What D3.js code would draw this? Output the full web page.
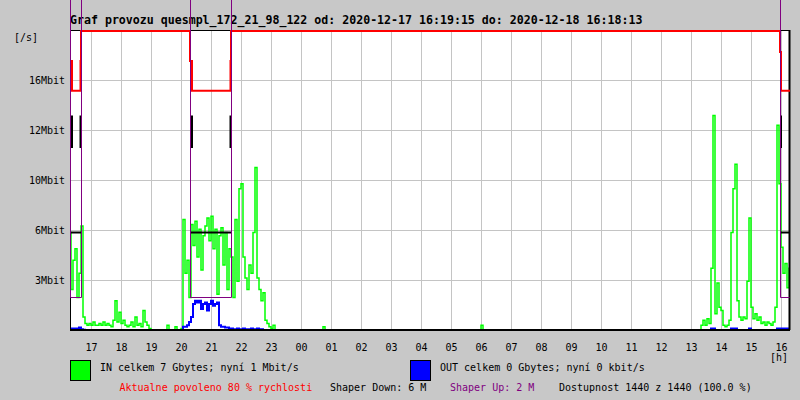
<!DOCTYPE html>
<html><head><meta charset="utf-8">
<script src="https://cdn.jsdelivr.net/npm/d3@7"></script>
<style>
html,body{margin:0;padding:0;background:#c8c8c8;}
svg{display:block;}
text{font-family:"DejaVu Sans Mono",monospace;font-size:10px;}
</style></head>
<body>
<svg id="c" width="800" height="400"></svg>
<script>
// ---------------- DATA ----------------
const titleText = "Graf provozu quesmpl_172_21_98_122 od: 2020-12-17 16:19:15 do: 2020-12-18 16:18:13";
const startTime = "2020-12-17 16:17";
const endTime = "2020-12-18 16:17";
const sampleMinutes = 4;               // one value per 4 minutes
const yMaxMbit = 18.4;                 // line speed (100 %)
const yTickLabels = ["3Mbit","6Mbit","10Mbit","12Mbit","16Mbit"];
const hourLabels = ["17","18","19","20","21","22","23","00","01","02","03","04","05","06","07","08","09","10","11","12","13","14","15","16"];
const firstHour = "2020-12-17 17:00";

// IN traffic [Mbit/s]
const inValues = [
 6.0,2.5,4.3,5.0,2.0,3.5,6.4,0.8,0.4,0.3,
 0.4,0.3,0.5,0.3,0.3,0.4,0.3,0.5,0.3,0.4,
 0.3,0.2,0.6,1.8,0.5,1.1,0.4,0.6,0.3,0.2,
 0.3,0.5,0.2,0.8,0.3,0.4,0.2,1.2,0.5,0.3,
 0.1,
 0,0,0,0,0,0,0,0,0.3,0,0,0,0.2,0,0,0.1,
 6.8,3.5,4.3,2.0,6.5,5.2,6.7,4.5,6.2,3.7,
 5.8,6.4,6.9,5.5,7.0,5.0,6.2,2.2,5.8,6.3,
 4.0,6.0,2.5,5.0,4.5,2.0,6.8,3.0,8.7,9.0,
 4.5,3.2,2.5,4.0,3.5,6.0,10.0,3.2,2.5,1.8,
 2.3,0.6,0.4,0.2,0.1,0.3,
 0,0,0,0,0,0,0,0,0,0,0,0,0,0,0,0,0,0,0,0,
 0,0,0,0,0.2,0,0,0,0,0,0,0,0,0,0,0,0,0,0,0,
 0,0,0,0,0,0,0,0,0,0,0,0,0,0,0,0,0,0,0,0,
 0,0,0,0,0,0,0,0,0,0,0,0,0,0,0,0,0,0,0,0,
 0,0,0,0,0,0,0,0,0,0,0,0,0,0,0,0,0,0,0,0,
 0,0,0,0.3,0,0,0,0,0,0,0,0,0,0,0,0,0,0,0,0,
 0,0,0,0,0,0,0,0,0,0,0,0,0,0,0,0,0,0,0,0,
 0,0,0,0,0,0,0,0,0,0,0,0,0,0,0,0,0,0,0,0,
 0,0,0,0,0,0,0,0,0,0,0,0,0,0,0,0,0,0,0,0,
 0,0,0,0,0,0,0,0,0,0,0,0,0,0,0,0,0,0,0,0,
 0,0,0,0,0,0,0,0,0,0,0,0,
 0,0.3,0.6,0.3,0.7,0.4,3.8,13.2,1.0,2.9,
 1.4,1.2,0.3,0.2,0.3,0.6,6.0,8.7,10.2,1.8,
 0.8,0.6,0.8,0.7,3.0,6.9,1.4,0.7,1.0,0.6,
 0.8,0.4,0.5,0.3,0.5,0.4,0.3,0.5,1.4,12.6,
 9.0,5.1,3.5,4.1,2.6,3.8
];
// OUT traffic [Mbit/s]
const outValues = [
 0.1,0.1,0.05,0.1,0.05,0.15,0.05,0.02,
 0,0,0,0,0,0,0,0,0,0,0,0,0,0,0,0,0,0,0,0,
 0,0,0,0,0,0,0,0,0,0,0,0,0,0,0,0,0,0,0,0,
 0,0,0,0,0,0,0,0,0,
 0.2,0.2,0.3,0.5,0.8,1.6,1.8,1.7,1.8,1.3,
 1.6,1.7,1.2,1.6,1.8,1.5,1.6,1.7,0.3,0.2,
 0.2,0.15,0.15,0.1,0.1,0.05,0.05,0.1,0.05,0.05,
 0.1,0.05,0.05,0.05,0.1,0.05,0.05,0.1,0.05,0.05,
 0,0,
 0,0,0,0,0,0,0,0,0,0,0,0,0,0,0,0,0,0,0,0,
 0,0,0,0,0,0,0,0,0,0,0,0,0,0,0,0,0,0,0,0,
 0,0,0,0,0,0,0,0,0,0,0,0,0,0,0,0,0,0,0,0,
 0,0,0,0,0,0,0,0,0,0,0,0,0,0,0,0,0,0,0,0,
 0,0,0,0,0,0,0,0,0,0,0,0,0,0,0,0,0,0,0,0,
 0,0,0,0,0,0,0,0,0,0,0,0,0,0,0,0,0,0,0,0,
 0,0,0,0,0,0,0,0,0,0,0,0,0,0,0,0,0,0,0,0,
 0,0,0,0,0,0,0,0,0,0,0,0,0,0,0,0,0,0,0,0,
 0,0,0,0,0,0,0,0,0,0,0,0,0,0,0,0,0,0,0,0,
 0,0,0,0,0,0,0,0,0,0,0,0,0,0,0,0,0,0,0,0,
 0,0,0,0,0,0,0,0,0,0,0,0,0,0,0,0,
 0,0,0,0,0,0,0.1,0.1,0,0,0,0,0,0,0,0,0.1,0.1,0.1,0,
 0,0,0,0,0,0.1,0,0,0,0,0,0,0,0,0,0,0,0,0,0.1,
 0.1,0.1,0.1,0.1,0.1,0.1
];
// Allowed speed [% of line], step changes
const allowedTimes = ["2020-12-17 16:17","2020-12-17 16:21","2020-12-17 16:38","2020-12-17 16:39",
                      "2020-12-17 20:17","2020-12-17 20:21","2020-12-17 21:38","2020-12-17 21:39",
                      "2020-12-18 15:57","2020-12-18 15:59","2020-12-18 16:17"];
const allowedPct   = [90,80,90,100, 90,80,90,100, 93,80,80];
// Shaper periods
const shapeStart = ["2020-12-17 16:17","2020-12-17 20:17","2020-12-18 15:57"];
const shapeEnd   = ["2020-12-17 16:39","2020-12-17 21:39","2020-12-18 16:17"];
const shaperDown = [6,6,6];   // Mbit
const shaperUp   = [2,2,2];   // Mbit
const shaperUpOff = 21;       // value outside shaping (off scale)
// shaper-down transition marks
const downEdgeTimes = ["2020-12-17 16:21","2020-12-17 16:38","2020-12-17 20:21","2020-12-17 21:38","2020-12-18 15:59"];
const downEdgeLow  = [11.2,11.2,11.2,11.2,11.2];
const downEdgeHigh = [13.2,13.2,13.2,13.2,13.2];

const legendIn  = "IN celkem 7 Gbytes; nyní 1 Mbit/s";
const legendOut = "OUT celkem 0 Gbytes; nyní 0 kbit/s";
const infoAllowed = "Aktualne povoleno 80 % rychlosti";
const infoDown = "Shaper Down: 6 M";
const infoUp = "Shaper Up: 2 M";
const infoAvail = "Dostupnost 1440 z 1440 (100.0 %)";

// ---------------- DRAW ----------------
const parse = d3.timeParse("%Y-%m-%d %H:%M");
const t0 = parse(startTime), t1 = parse(endTime);
const L = 70, R = 790, T = 30, B = 330;
const x = d3.scaleTime().domain([t0, t1]).range([L, R]);
const y = d3.scaleLinear().domain([0, yMaxMbit]).range([B, 31]);
const sampleT = i => new Date(t0.getTime() + i * sampleMinutes * 60000);
const crisp = v => Math.floor(v) + 0.5;

const svg = d3.select("#c");
svg.append("rect").attr("width",800).attr("height",400).attr("fill","#c8c8c8");

svg.append("text").attr("x",L).attr("y",23.5)
  .style("font-size","11.6px").style("font-weight","bold").text(titleText);

// plot bg
svg.append("rect").attr("x",L).attr("y",T).attr("width",R-L).attr("height",B-T).attr("fill","#fff");

// grid
const yTickVals = yTickLabels.map((d,i)=> yMaxMbit*(i+1)/6);
svg.append("g").selectAll("line").data(yTickVals).join("line")
  .attr("x1",L).attr("x2",R).attr("y1",d=>crisp(y(d))).attr("y2",d=>crisp(y(d)))
  .attr("stroke","#c4c4c4").attr("stroke-width",1);
const hourTimes = hourLabels.map((d,i)=> new Date(parse(firstHour).getTime() + i*3600000));
svg.append("g").selectAll("line").data(hourTimes).join("line")
  .attr("x1",d=>crisp(x(d))).attr("x2",d=>crisp(x(d))).attr("y1",T).attr("y2",B)
  .attr("stroke","#c4c4c4").attr("stroke-width",1);

// y labels
svg.append("g").selectAll("text").data(yTickVals).join("text")
  .attr("x",65).attr("y",d=>crisp(y(d))+3.5).attr("text-anchor","end")
  .text((d,i)=>yTickLabels[i]);
svg.append("text").attr("x",14).attr("y",40.5).text("[/s]");
// x labels
svg.append("g").selectAll("text").data(hourTimes).join("text")
  .attr("x",d=>x(d)).attr("y",351).attr("text-anchor","middle")
  .text((d,i)=>hourLabels[i]);
svg.append("text").attr("x",770).attr("y",361).text("[h]");

// clip
svg.append("clipPath").attr("id","plot").append("rect")
  .attr("x",L).attr("y",T).attr("width",R-L).attr("height",B-T);

const trafficLine = d3.line().x((d,i)=>x(sampleT(i))).y(d=>y(d)).curve(d3.curveStep);
svg.append("path").attr("clip-path","url(#plot)").attr("d",trafficLine(inValues))
  .attr("fill","none").attr("stroke","#00ff00").attr("stroke-width",1.5);
svg.append("path").attr("clip-path","url(#plot)").attr("d",trafficLine(outValues))
  .attr("fill","none").attr("stroke","#0000ff").attr("stroke-width",2);

// borders
svg.append("line").attr("x1",L).attr("x2",R).attr("y1",T+0.5).attr("y2",T+0.5).attr("stroke","#000");
svg.append("line").attr("x1",R-0.5).attr("x2",R-0.5).attr("y1",T).attr("y2",B).attr("stroke","#000").attr("stroke-width",2);
svg.append("line").attr("x1",L+0.5).attr("x2",L+0.5).attr("y1",T).attr("y2",B).attr("stroke","#000");

// allowed (red)
const redPts = allowedTimes.map((t,i)=>[x(parse(t)), y(yMaxMbit*allowedPct[i]/100)]);
svg.append("path").attr("d",d3.line().curve(d3.curveStepAfter)(redPts))
  .attr("fill","none").attr("stroke","#ff0000").attr("stroke-width",2);

// shaper down (black)
svg.append("g").selectAll("line").data(shapeStart).join("line")
  .attr("x1",(d,i)=>x(parse(d))).attr("x2",(d,i)=>x(parse(shapeEnd[i])))
  .attr("y1",(d,i)=>y(shaperDown[i])).attr("y2",(d,i)=>y(shaperDown[i]))
  .attr("stroke","#000").attr("stroke-width",2);
svg.append("g").selectAll("line").data(downEdgeTimes).join("line")
  .attr("x1",d=>x(parse(d))).attr("x2",d=>x(parse(d)))
  .attr("y1",(d,i)=>y(downEdgeLow[i])).attr("y2",(d,i)=>y(downEdgeHigh[i]))
  .attr("stroke","#000").attr("stroke-width",2);

// bottom axis
svg.append("line").attr("x1",L).attr("x2",R).attr("y1",B).attr("y2",B).attr("stroke","#000").attr("stroke-width",2);

// shaper up (purple)
const upPts = [[crisp(x(t0)), y(shaperUpOff)]];
shapeStart.forEach((s,i)=>{
  upPts.push([crisp(x(parse(s))), crisp(y(shaperUp[i]))]);
  upPts.push([crisp(Math.min(x(parse(shapeEnd[i])), R-1)), parse(shapeEnd[i])>=t1 ? crisp(y(shaperUp[i])) : y(shaperUpOff)]);
});
svg.append("path").attr("d",d3.line().curve(d3.curveStepAfter)(upPts))
  .attr("fill","none").attr("stroke","#800080").attr("stroke-width",1);

// legend
svg.append("rect").attr("x",70.5).attr("y",360.5).attr("width",20).attr("height",20)
  .attr("fill","#00ff00").attr("stroke","#000");
svg.append("text").attr("x",100).attr("y",371).text(legendIn);
svg.append("rect").attr("x",410.5).attr("y",360.5).attr("width",20).attr("height",20)
  .attr("fill","#0000ff").attr("stroke","#000");
svg.append("text").attr("x",440).attr("y",371).text(legendOut);
svg.append("text").attr("x",119.5).attr("y",391).attr("fill","#ff0000").text(infoAllowed);
svg.append("text").attr("x",330).attr("y",391).text(infoDown);
svg.append("text").attr("x",450).attr("y",391).attr("fill","#800080").text(infoUp);
svg.append("text").attr("x",559).attr("y",391).text(infoAvail);
</script>
</body></html>
